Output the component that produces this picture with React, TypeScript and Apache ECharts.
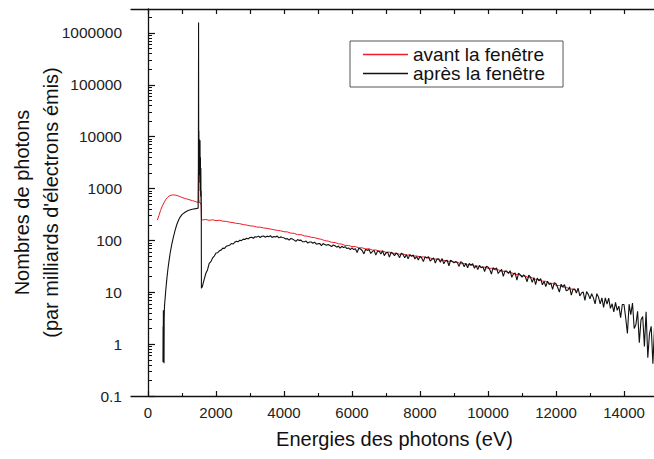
import React, { useEffect, useRef } from "react";
import * as echarts from "echarts";

const FONT = "'Liberation Sans', Arial, Helvetica, sans-serif";

const seriesNames = ["avant la fenêtre", "après la fenêtre"];

const xLabelValues = [0, 2000, 4000, 6000, 8000, 10000, 12000, 14000];
const xMinorValues = [1000, 3000, 5000, 7000, 9000, 11000, 13000];
const xTopTickValues = [0, 1000, 2000, 3000, 4000, 5000, 6000, 7000, 8000, 9000, 10000, 11000, 12000, 13000, 14000];
const yLabelValues = [0.1, 1, 10, 100, 1000, 10000, 100000, 1000000];
const yMinorValues = [
  0.2, 0.3, 0.4, 0.5, 0.6, 0.7, 0.8, 0.9,
  2, 3, 4, 5, 6, 7, 8, 9,
  20, 30, 40, 50, 60, 70, 80, 90,
  200, 300, 400, 500, 600, 700, 800, 900,
  2000, 3000, 4000, 5000, 6000, 7000, 8000, 9000,
  20000, 30000, 40000, 50000, 60000, 70000, 80000, 90000,
  200000, 300000, 400000, 500000, 600000, 700000, 800000, 900000,
  2000000,
];

// spectrum before the window: [energy eV, photons]
const redSpectrum: [number, number][] = [
  [275, 247], [320, 300], [370, 380], [420, 460], [470, 530], [520, 610], [570, 670], [620, 715],
  [680, 745], [750, 755], [820, 745], [890, 722], [960, 690], [1030, 662], [1100, 640], [1170, 622],
  [1240, 602], [1310, 584], [1380, 566], [1440, 548], [1480, 540], [1487, 4000], [1494, 620],
  [1505, 560], [1530, 522], [1560, 505], [1575, 250],
  [1600, 248], [1700, 253], [1800, 244], [1900, 250], [2000, 240], [2100, 245], [2200, 235], [2300, 233],
  [2400, 225], [2500, 220], [2600, 213], [2700, 210], [2800, 202], [2900, 198], [3000, 191], [3100, 189],
  [3200, 181], [3300, 180], [3400, 174], [3500, 171], [3600, 166], [3700, 161], [3800, 156], [3900, 153],
  [4000, 147], [4100, 146], [4200, 138], [4300, 137], [4400, 129], [4500, 129], [4600, 122], [4700, 120],
  [4800, 115], [4900, 113], [5000, 108], [5100, 105], [5200, 99], [5300, 97], [5400, 92], [5500, 91],
  [5600, 86], [5700, 85], [5800, 80], [5900, 80], [6000, 76], [6100, 76], [6200, 72], [6300, 72],
  [6400, 68.5], [6500, 69], [6600, 65], [6700, 65.5], [6800, 62], [6900, 62.5], [7000, 59], [7100, 59.5],
  [7200, 56], [7300, 57], [7400, 54], [7500, 55], [7600, 52], [7700, 52.5], [7800, 49.8], [7900, 50.3],
  [8000, 48], [8100, 48.2], [8200, 45.8], [8300, 46], [8400, 43.5], [8500, 43.6], [8600, 41.4], [8700, 41.5],
  [8800, 39.4], [8900, 40], [9000, 38], [9100, 38], [9200, 35.6], [9300, 35.8], [9400, 34], [9500, 34],
  [9600, 32.2], [9700, 32], [9800, 30.4], [9900, 30.4], [10000, 29], [10100, 29], [10200, 27.2], [10300, 27.2],
  [10400, 25.5], [10500, 25.4], [10600, 23.9], [10700, 23.8], [10800, 22.2], [10900, 22.1], [11000, 20.7],
  [11100, 20.5], [11200, 19.1], [11300, 19.1], [11400, 17.8], [11500, 17.6], [11600, 16.4], [11700, 16.3],
  [11800, 15], [11900, 14.8], [12000, 13.6], [12100, 13.5], [12200, 12.6], [12300, 12.5], [12400, 11.6],
  [12500, 11.5], [12600, 10.8],
];

// spectrum after the window: [energy eV, photons]
const blackSpectrum: [number, number][] = [
  [440, 0.45], [444, 2.2], [448, 0.6], [452, 4.5], [456, 0.9], [460, 3.6], [464, 1.3], [468, 4.2],
  [472, 0.43], [476, 3.0], [482, 4.8], [490, 6], [505, 7.8], [520, 10.5], [550, 17], [580, 26], [610, 37],
  [650, 56], [700, 85], [750, 118], [800, 160], [850, 205], [900, 247], [950, 285], [1000, 315],
  [1050, 335], [1100, 352], [1150, 368], [1200, 380], [1250, 390], [1300, 398], [1350, 405], [1400, 410],
  [1440, 415], [1475, 420],
  [1482, 2500], [1487, 1600000], [1492, 4000], [1497, 13000], [1502, 1800], [1507, 9000], [1512, 2200],
  [1518, 7000], [1524, 1300], [1530, 8500], [1536, 900], [1542, 4000], [1548, 700], [1554, 2500],
  [1560, 500], [1566, 900], [1571, 12],
  [1600, 13], [1650, 17.5], [1700, 23], [1750, 27], [1800, 36], [1850, 39], [1900, 46], [1950, 50],
  [2000, 57], [2050, 58], [2100, 63], [2150, 65], [2200, 71], [2250, 70], [2300, 77], [2350, 79],
  [2400, 81], [2450, 87], [2500, 85], [2550, 92], [2600, 96], [2650, 94], [2700, 101], [2750, 99],
  [2800, 106], [2850, 104], [2900, 110], [2950, 107], [3000, 114], [3050, 115], [3100, 110], [3150, 118],
  [3200, 116], [3250, 121], [3300, 114], [3350, 120], [3400, 122], [3450, 115], [3500, 121], [3550, 118],
  [3600, 123], [3650, 114], [3700, 119], [3750, 117], [3800, 121], [3850, 112], [3900, 117], [3950, 114],
  [4000, 112.2], [4050, 106.2], [4100, 108.3], [4150, 101.4], [4200, 108.8], [4250, 106.1], [4300, 101.3], [4350, 96.2],
  [4400, 103.7], [4450, 100.1], [4500, 101.4], [4550, 94.0], [4600, 94.4], [4650, 97.1], [4700, 88.5], [4750, 93.4],
  [4800, 93.2], [4850, 88.5], [4900, 92.8], [4950, 84.6], [5000, 86.6], [5050, 87.4], [5100, 79.7], [5150, 86.8],
  [5200, 83.8], [5250, 80.4], [5300, 83.2], [5350, 79.9], [5400, 76.2], [5450, 81.7], [5500, 78.9], [5550, 74.0],
  [5600, 77.8], [5650, 71.1], [5700, 77.0], [5750, 72.7], [5800, 75.8], [5850, 69.8], [5900, 71.6], [5950, 66.3],
  [6000, 72.2], [6050, 66.6], [6100, 69.3], [6150, 58.5], [6200, 70.6], [6250, 68.4], [6300, 64.0], [6350, 55.0],
  [6400, 67.4], [6450, 64.2], [6500, 67.1], [6550, 56.0], [6600, 60.9], [6650, 64.3], [6700, 52.0], [6750, 61.7],
  [6800, 62.1], [6850, 54.5], [6900, 62.9], [6950, 51.0], [7000, 57.5], [7050, 58.9], [7100, 47.5], [7150, 59.2],
  [7200, 56.4], [7250, 50.5], [7300, 56.8], [7350, 53.6], [7400, 46.5], [7450, 56.5], [7500, 53.8], [7550, 46.5],
  [7600, 53.2], [7650, 44.0], [7700, 53.0], [7750, 49.3], [7800, 52.4], [7850, 44.0], [7900, 49.0], [7950, 42.0],
  [8000, 49.3], [8050, 45.8], [8100, 39.0], [8150, 48.6], [8200, 46.0], [8250, 48.4], [8300, 40.0], [8350, 43.3],
  [8400, 46.0], [8450, 36.5], [8500, 43.8], [8550, 44.1], [8600, 38.0], [8650, 44.6], [8700, 35.5], [8750, 40.4],
  [8800, 41.4], [8850, 32.5], [8900, 41.5], [8950, 39.3], [9000, 36.8], [9050, 39.4], [9100, 36.9], [9150, 31.5],
  [9200, 39.0], [9250, 36.9], [9300, 31.0], [9350, 36.3], [9400, 29.5], [9450, 36.0], [9500, 33.0], [9550, 35.6],
  [9600, 29.0], [9650, 32.7], [9700, 27.5], [9750, 33.0], [9800, 29.7], [9850, 31.2], [9900, 25.2], [9950, 31.7],
  [10000, 30.6], [10050, 27.7], [10100, 22.5], [10150, 29.8], [10200, 27.7], [10250, 29.5], [10300, 23.0], [10350, 25.4],
  [10400, 27.5], [10450, 20.3], [10500, 25.6], [10550, 25.8], [10600, 23.0], [10650, 26.1], [10700, 19.4], [10750, 22.7],
  [10800, 23.4], [10850, 17.2], [10900, 23.4], [10950, 21.7], [11000, 19.5], [11050, 21.8], [11100, 19.7], [11150, 16.0],
  [11200, 21.4], [11250, 19.6], [11300, 15.5], [11350, 19.1], [11400, 14.1], [11450, 18.8], [11500, 16.5], [11550, 18.3],
  [11600, 13.9], [11650, 16.2], [11700, 12.9], [11750, 16.4], [11800, 14.1], [11850, 15.0], [11900, 11.4], [11950, 15.3],
  [12000, 14.6], [12050, 12.4], [12100, 10.1], [12150, 14.3], [12200, 12.7], [12250, 14.1], [12300, 10.7], [12350, 11.1],
  [12400, 12.7], [12450, 8.8], [12500, 11.4], [12550, 11.6], [12600, 9.7], [12650, 12.0], [12700, 8.5], [12750, 9.7],
  [12800, 10.2], [12850, 7.0], [12900, 10.3], [12950, 9.1], [13000, 7.5], [13050, 9.4], [13100, 7.8], [13150, 6.0],
  [13200, 9.4], [13250, 8.1], [13300, 6.0], [13350, 7.8], [13400, 5.1], [13450, 7.8], [13500, 5.9], [13550, 7.7],
  [13600, 4.9], [13650, 6.0], [13700, 4.2], [13750, 6.4], [13800, 4.5], [13850, 5.4], [13900, 3.25], [13950, 5.8],
  [14000, 5.8], [14050, 3.2], [14100, 1.6], [14150, 5.9], [14200, 3.7], [14250, 6.2], [14300, 2.0], [14350, 2.4],
  [14400, 4.3], [14450, 1.07], [14500, 2.95], [14550, 3.4], [14600, 0.9], [14650, 4.2], [14700, 0.55], [14750, 1.6],
  [14800, 2.2], [14850, 0.42], [14900, 2.3], [14950, 0.5], [15000, 1.3],
];

const fmtX = (v: number) => String(v);
const fmtY = (v: number) => (v < 1 ? String(Math.round(v * 10) / 10) : String(Math.round(v)));

export default function App() {
  const ref = useRef<HTMLDivElement>(null);
  useEffect(() => {
    if (!ref.current) return;
    const chart = echarts.init(ref.current, undefined, { renderer: "svg" });
    const axisColor = "#111";
    const xBase = { type: "value", min: -500, max: 15000, splitLine: { show: false } };
    const yBase = { type: "log", logBase: 10, min: 0.1, max: 2.9e6, splitLine: { show: false } };
    chart.setOption({
      animation: false,
      backgroundColor: "#ffffff",
      textStyle: { fontFamily: FONT },
      grid: { left: 131, top: 9, right: -4, bottom: 63, containLabel: false, outerBoundsMode: "none" },
      legend: {
        data: seriesNames,
        left: 350,
        top: 41,
        orient: "vertical",
        icon: "rect",
        itemWidth: 45,
        itemHeight: 1.4,
        itemGap: 0,
        padding: [4, 18, 4, 13],
        borderColor: "#555",
        borderWidth: 1,
        backgroundColor: "#fff",
        textStyle: { fontSize: 19, color: "#111", lineHeight: 16.5, fontFamily: FONT },
      },
      xAxis: [
        {
          ...xBase,
          position: "bottom",
          axisLine: { lineStyle: { color: axisColor, width: 1.3 } },
          axisTick: { inside: true, length: 5, customValues: xLabelValues, lineStyle: { color: axisColor, width: 1.2 } },
          axisLabel: { customValues: xLabelValues, formatter: fmtX, fontSize: 15, color: "#222", margin: 9, fontFamily: FONT },
          name: "Energies des photons (eV)",
          nameLocation: "middle",
          nameGap: 33,
          nameMoveOverlap: false,
          nameTextStyle: { fontSize: 20, color: "#111", fontFamily: FONT },
        },
        {
          ...xBase,
          position: "bottom",
          axisLine: { show: false },
          axisTick: { inside: true, length: 3, customValues: xMinorValues, lineStyle: { color: axisColor, width: 1.1 } },
          axisLabel: { show: false },
        },
        {
          ...xBase,
          position: "top",
          axisLine: { show: true, lineStyle: { color: axisColor, width: 1.3 } },
          axisTick: { inside: true, length: 5, customValues: xTopTickValues, lineStyle: { color: axisColor, width: 1.2 } },
          axisLabel: { show: false },
        },
      ],
      yAxis: [
        {
          ...yBase,
          position: "left",
          axisLine: { lineStyle: { color: axisColor, width: 1.3 } },
          axisTick: { inside: true, length: 7, customValues: yLabelValues, lineStyle: { color: axisColor, width: 1.2 } },
          axisLabel: { customValues: yLabelValues, formatter: fmtY, fontSize: 15.5, color: "#222", margin: 9, fontFamily: FONT },
          name: "Nombres de photons\n(par milliards d'électrons émis)",
          nameLocation: "middle",
          nameGap: 66,
          nameRotate: 90,
          nameMoveOverlap: false,
          nameTextStyle: { fontSize: 20, color: "#111", lineHeight: 29, fontFamily: FONT },
        },
        {
          ...yBase,
          position: "left",
          axisLine: { show: false },
          axisTick: { inside: true, length: 4, customValues: yMinorValues, lineStyle: { color: axisColor, width: 1 } },
          axisLabel: { show: false },
        },
      ],
      series: [
        {
          name: seriesNames[0],
          type: "line",
          data: redSpectrum,
          xAxisIndex: 0,
          yAxisIndex: 0,
          symbol: "none",
          lineStyle: { color: "#ee1c25", width: 1 },
          itemStyle: { color: "#ee1c25" },
        },
        {
          name: seriesNames[1],
          type: "line",
          data: blackSpectrum,
          xAxisIndex: 0,
          yAxisIndex: 0,
          symbol: "none",
          lineStyle: { color: "#111", width: 1.1 },
          itemStyle: { color: "#111" },
        },
      ],
    });
    return () => chart.dispose();
  }, []);
  return <div ref={ref} style={{ position: "fixed", left: 0, top: 0, width: 654, height: 459, background: "#fff" }} />;
}
